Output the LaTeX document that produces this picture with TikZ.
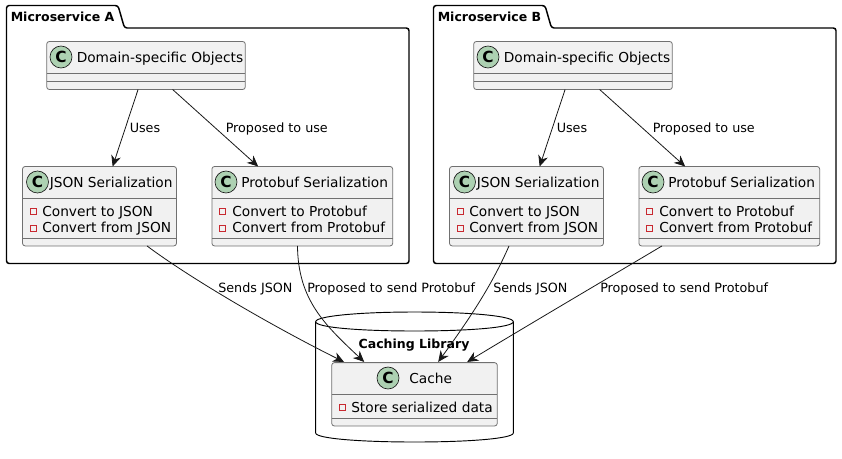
\documentclass[tikz,border=0pt]{standalone}
\usepackage{fontspec}
\setmainfont{DejaVu Sans}
\usetikzlibrary{arrows.meta,calc}
\definecolor{cfill}{HTML}{F1F1F1}
\definecolor{cline}{HTML}{181818}
\definecolor{cbox}{HTML}{707070}
\definecolor{cgreen}{HTML}{ADD1B2}
\definecolor{cred}{HTML}{C82930}
\tikzset{
  classbox/.style={draw=cbox,line width=0.6pt,fill=cfill,rounded corners=2pt,inner sep=0pt,outer sep=0pt},
  divider/.style={draw=cbox,line width=0.5pt},
  spot/.style={circle,draw=cline,line width=0.5pt,fill=cgreen,minimum size=16.5pt,inner sep=0pt,font=\fontsize{11.5pt}{12pt}\selectfont\bfseries},
  ctext/.style={anchor=base west,inner sep=0pt,font=\fontsize{10.3pt}{12pt}\selectfont,text=black},
  elabel/.style={anchor=base west,inner sep=0pt,font=\fontsize{9.55pt}{12pt}\selectfont,text=black},
  pkgtitle/.style={anchor=base west,inner sep=0pt,font=\fontsize{9.4pt}{12pt}\selectfont\bfseries,text=black},
  priv/.style={draw=cred,line width=0.5pt,fill=cfill,minimum size=4.4pt,inner sep=0pt},
  conn/.style={draw=cline,line width=0.6pt,-{Stealth[length=8.2pt,width=7.4pt,inset=2.6pt]}},
  pkg/.style={draw=black,line width=1.1pt,fill=white,rounded corners=2pt},
}
\newcommand{\msvc}[3]{% suffix, x offset, title
\begin{scope}[shift={(#2,0)}]
  \path[pkg] (6.5,28) -- (6.5,5.5) -- (118,5.5) -- (124.5,28) -- (409,28) -- (409,263.5) -- (6.5,263.5) -- cycle;
  \node[pkgtitle] (title#1) at (10.5,21.7) {#3};
  \node[classbox,minimum width=149pt,minimum height=36pt] (d#1) at (146,65.5) {};
  \draw[divider] (46.5,73) -- (245,73);
  \draw[divider] (46.5,81) -- (245,81);
  \node[spot] (dc#1) at (61,57) {C};
  \node[ctext] (dt#1) at (76.5,62.3) {Domain-specific Objects};
  \node[classbox,minimum width=115.5pt,minimum height=59.6pt] (j#1) at (99.5,206.2) {};
  \draw[divider] (22.5,198) -- (176.5,198);
  \draw[divider] (22.5,238.5) -- (176.5,238.5);
  \node[spot] (jc#1) at (37.5,182) {C};
  \node[ctext] (jt#1) at (49.5,187.3) {JSON Serialization};
  \node[priv] (ja#1) at (33.3,211) {};
  \node[priv] (jb#1) at (33.3,228) {};
  \node[ctext] (jm#1) at (42,216) {Convert to JSON};
  \node[ctext] (jn#1) at (42,232) {Convert from JSON};
  \node[classbox,minimum width=135.6pt,minimum height=59.6pt] (p#1) at (302.3,206.2) {};
  \draw[divider] (212,198) -- (392.6,198);
  \draw[divider] (212,238.5) -- (392.6,238.5);
  \node[spot] (pc#1) at (226,182) {C};
  \node[ctext] (pt#1) at (241,187.3) {Protobuf Serialization};
  \node[priv] (pa#1) at (222.5,211) {};
  \node[priv] (pb#1) at (222.5,228) {};
  \node[ctext] (pm#1) at (232,216) {Convert to Protobuf};
  \node[ctext] (pn#1) at (232,232) {Convert from Protobuf};
  \draw[conn] (d#1) -- (j#1);
  \draw[conn] (d#1) -- (p#1);
  \node[elabel] (lu#1) at (129.5,132.7) {Uses};
  \node[elabel] (lp#1) at (225.5,132.7) {Proposed to use};
\end{scope}}
\begin{document}
\begin{tikzpicture}[x=0.75pt,y=-0.75pt]
\useasboundingbox (0,0) rectangle (842,458);
\msvc{A}{0}{Microservice A}
\msvc{B}{427}{Microservice B}
% database
\path[draw=black,line width=0.7pt,fill=white] (315.7,321.7) .. controls (315.7,316) and (360,312) .. (414.5,312) .. controls (469,312) and (513.3,316) .. (513.3,321.7) -- (513.3,433) .. controls (513.3,438.5) and (469,442) .. (414.5,442) .. controls (360,442) and (315.7,438.5) .. (315.7,433) -- cycle;
\draw[draw=black,line width=0.7pt] (315.7,321.7) .. controls (315.7,327.5) and (360,331) .. (414.5,331) .. controls (469,331) and (513.3,327.5) .. (513.3,321.7);
\node[anchor=base,inner sep=0pt,font=\fontsize{9.4pt}{12pt}\selectfont\bfseries] (dbt) at (414,348) {Caching Library};
\node[classbox,minimum width=124.2pt,minimum height=47.5pt] (cache) at (414.5,394.3) {};
\draw[divider] (331.7,394.3) -- (497.3,394.3);
\draw[divider] (331.7,418.7) -- (497.3,418.7);
\node[spot] (cc) at (388,378) {C};
\node[ctext] (ct) at (409,383.3) {Cache};
\node[priv] (cp) at (342.5,407) {};
\node[ctext] (cm) at (351,412) {Store serialized data};
% connectors
\draw[conn] ($(jA.south)+(47.5,0)$) .. controls (190,278) and (270,325) .. ($(cache.north west)+(12.3,-0.7)$);
\draw[conn] ($(pA.south)+(-4.8,0)$) .. controls (298,300) and (325,325) .. ($(cache.north west)+(32.5,-0.7)$);
\draw[conn] ($(jB.south)+(-17.5,0)$) .. controls (492,285) and (470,318) .. ($(cache.north west)+(106.5,-0.7)$);
\draw[conn] ($(pB.south)+(-67.3,0)$) .. controls (625,268) and (540,318) .. ($(cache.north west)+(135.5,-0.7)$);
\node[elabel] (l1) at (218,292.7) {Sends JSON};
\node[elabel] (l2) at (307,292.7) {Proposed to send Protobuf};
\node[elabel] (l3) at (493,292.7) {Sends JSON};
\node[elabel] (l4) at (600,292.7) {Proposed to send Protobuf};
\end{tikzpicture}
\end{document}
